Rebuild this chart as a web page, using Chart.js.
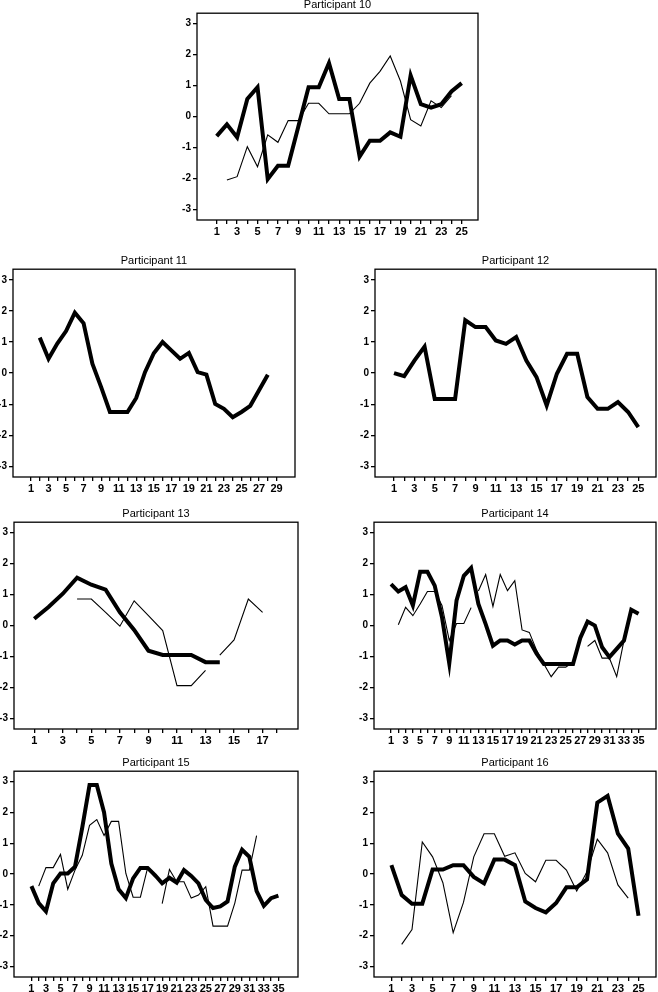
<!DOCTYPE html>
<html>
<head>
<meta charset="utf-8">
<script src="https://cdn.jsdelivr.net/npm/chart.js@4/dist/chart.umd.min.js"></script>
<style>
body{margin:0;background:#fff;}
#wrap{position:relative;width:658px;height:992px;overflow:hidden;background:#fff;}
#wrap canvas{position:absolute;}
</style>
</head>
<body>
<div id="wrap"></div>
<script>
// y ticks shared by all panels
const yTicks = [-3, -2, -1, 0, 1, 2, 3]

// participant 10
const p10Sessions = 25
const p10Thick = [-0.63, -0.25, -0.67, 0.57, 0.95, -2.02, -1.59, -1.59, -0.32, 0.95, 0.95, 1.73, 0.57, 0.57, -1.29, -0.78, -0.78, -0.51, -0.65, 1.33, 0.4, 0.29, 0.4, 0.81, 1.08]
const p10Thin = [null, -2.05, -1.94, -0.97, -1.62, -0.59, -0.83, -0.13, -0.13, 0.43, 0.43, 0.09, 0.09, 0.09, 0.43, 1.08, 1.46, 1.96, 1.15, -0.1, -0.3, 0.51, 0.29, 0.68]

// participant 11
const p11Sessions = 29
const p11Thick = [null, 1.14, 0.46, 0.95, 1.35, 1.94, 1.6, 0.3, -0.45, -1.25, -1.25, -1.25, -0.8, 0.03, 0.64, 1.0, 0.73, 0.46, 0.65, 0.03, -0.05, -0.99, -1.15, -1.42, -1.25, -1.05, -0.55, -0.05]

// participant 12
const p12Sessions = 25
const p12Thick = [0.0, -0.1, 0.4, 0.85, -0.83, -0.83, -0.83, 1.7, 1.48, 1.48, 1.05, 0.94, 1.16, 0.4, -0.13, -1.04, -0.02, 0.62, 0.62, -0.77, -1.15, -1.15, -0.93, -1.25, -1.74]

// participant 13
const p13Sessions = 18
const p13Thick = [0.22, 0.6, 1.03, 1.55, 1.32, 1.16, 0.43, -0.14, -0.81, -0.95, -0.95, -0.95, -1.18, -1.18]
const p13Thin = [null, null, null, 0.86, 0.86, 0.43, -0.02, 0.8, 0.32, -0.16, -1.94, -1.94, -1.45, -0.95, -0.46, 0.86, 0.43]
const p13Breaks = [13]

// participant 14
const p14Sessions = 35
const p14Thick = [1.34, 1.1, 1.24, 0.65, 1.74, 1.74, 1.29, 0.27, -1.22, 0.81, 1.61, 1.86, 0.7, 0.05, -0.65, -0.48, -0.48, -0.61, -0.48, -0.48, -0.91, -1.24, -1.24, -1.24, -1.24, -1.24, -0.4, 0.13, 0.0, -0.7, -1.02, -0.75, -0.48, 0.51, 0.38]
const p14Thin = [null, 0.03, 0.59, 0.32, 0.7, 1.1, 1.1, 0.65, -0.48, 0.07, 0.07, 0.58, 1.12, 1.65, 0.62, 1.65, 1.13, 1.45, -0.14, -0.22, -0.8, -1.24, -1.65, -1.34, -1.34, -1.18, null, -0.67, -0.48, -1.05, -1.05, -1.65, -0.48]
const p14Breaks = [12]

// participant 15
const p15Sessions = 35
const p15Thick = [-0.39, -0.94, -1.21, -0.3, 0.02, 0.02, 0.24, 1.52, 2.89, 2.89, 2.0, 0.34, -0.49, -0.78, -0.14, 0.2, 0.2, -0.03, -0.3, -0.12, -0.28, 0.13, -0.06, -0.3, -0.84, -1.1, -1.05, -0.89, 0.24, 0.79, 0.56, -0.55, -1.03, -0.78, -0.7]
const p15Thin = [null, -0.39, 0.21, 0.21, 0.64, -0.49, 0.13, 0.61, 1.58, 1.77, 1.25, 1.71, 1.71, 0.02, -0.75, -0.75, 0.21, -0.1, -0.96, 0.15, -0.25, -0.25, -0.78, -0.68, -0.41, -1.69, -1.69, -1.69, -0.94, 0.13, 0.13, 1.25]
const p15Breaks = [18]

// participant 16
const p16Sessions = 25
const p16Thick = [0.29, -0.68, -0.96, -0.96, 0.15, 0.15, 0.29, 0.29, -0.09, -0.3, 0.47, 0.47, 0.29, -0.89, -1.1, -1.24, -0.94, -0.43, -0.43, -0.17, 2.32, 2.54, 1.31, 0.83, -1.35]
const p16Thin = [null, -2.28, -1.8, 1.04, 0.56, -0.28, -1.9, -0.92, 0.56, 1.31, 1.31, 0.58, 0.69, 0.02, -0.25, 0.45, 0.45, 0.13, -0.55, 0.08, 1.13, 0.69, -0.35, -0.78]


const FONT = '"Liberation Sans", Arial, Helvetica, sans-serif'
const YW = 22   // y axis width
const XH = 19   // x axis height
const TH = 15.2 // title height
const RP = 2

const framePlugin = {
  id: 'frame',
  afterDatasetsDraw(chart) {
    const a = chart.chartArea
    const c = chart.ctx
    c.save()
    c.strokeStyle = '#000'
    c.lineWidth = 1.3
    c.strokeRect(a.left, a.top, a.right - a.left, a.bottom - a.top)
    c.restore()
  }
}

function makePanel(title, box, xMin, xMax, nSessions, thick, thin, breaks) {

  let sessions = []
  for (let i = 1; i <= nSessions; i++) sessions.push(i)

  let cv = document.createElement('canvas')
  let w = box[2] - box[0] + YW + RP
  let h = box[3] - box[1] + TH + XH
  cv.width = w
  cv.height = h
  cv.style.left = (box[0] - YW) + 'px'
  cv.style.top = (box[1] - TH) + 'px'
  cv.style.width = w + 'px'
  cv.style.height = h + 'px'
  document.getElementById('wrap').appendChild(cv)

  let datasets = []
  if (thin) {
    datasets.push({
      data: thin,
      borderColor: '#000',
      borderWidth: 1.1,
      pointRadius: 0,
      tension: 0,
      spanGaps: false,
      segment: {
        borderColor: c => (breaks || []).includes(c.p0.parsed.x) ? 'rgba(0,0,0,0)' : undefined
      }
    })
  }
  datasets.push({
    data: thick,
    borderColor: '#000',
    borderWidth: 4,
    borderJoinStyle: 'miter',
    pointRadius: 0,
    tension: 0,
    spanGaps: false
  })

  new Chart(cv, {
    type: 'line',
    data: { labels: sessions, datasets: datasets },
    options: {
      responsive: false,
      animation: false,
      devicePixelRatio: 1,
      layout: { padding: { top: 0, right: RP, bottom: 0, left: 0 } },
      plugins: {
        legend: { display: false },
        tooltip: { enabled: false },
        title: {
          display: true,
          text: title,
          fullSize: false,
          color: '#000',
          font: { family: FONT, size: 11, weight: 'normal', lineHeight: 1.2 },
          padding: { top: 0, bottom: 2 }
        }
      },
      scales: {
        x: {
          type: 'linear',
          min: xMin,
          max: xMax,
          afterBuildTicks: s => { s.ticks = sessions.map(v => ({ value: v })) },
          afterFit: s => { s.height = XH },
          grid: { drawOnChartArea: false, drawTicks: true, tickLength: 4, color: '#000', lineWidth: 1.3 },
          border: { display: false },
          ticks: {
            autoSkip: false,
            maxRotation: 0,
            minRotation: 0,
            padding: 1,
            color: '#000',
            font: { family: FONT, size: 11, weight: 'bold' },
            callback: v => (v % 2 === 1 ? String(v) : '')
          }
        },
        y: {
          min: -3.34,
          max: 3.34,
          afterBuildTicks: s => { s.ticks = yTicks.map(v => ({ value: v })) },
          afterFit: s => { s.width = YW },
          grid: { drawOnChartArea: false, drawTicks: true, tickLength: 4, color: '#000', lineWidth: 1.3 },
          border: { display: false },
          ticks: {
            padding: 2,
            color: '#000',
            font: { family: FONT, size: 10, weight: 'bold' },
            callback: v => String(v)
          }
        }
      }
    },
    plugins: [framePlugin]
  })
}

makePanel('Participant 10', [197, 13, 478, 220], -0.93, 26.6, p10Sessions, p10Thick, p10Thin, [])
makePanel('Participant 11', [13, 269, 295, 477], -1.05, 31.1, p11Sessions, p11Thick, null, [])
makePanel('Participant 12', [375, 269, 656, 477], -0.87, 26.74, p12Sessions, p12Thick, null, [])
makePanel('Participant 13', [14, 522, 298, 729], -0.42, 19.48, p13Sessions, p13Thick, p13Thin, p13Breaks)
makePanel('Participant 14', [374, 522, 656, 729], -1.34, 37.4, p14Sessions, p14Thick, p14Thin, p14Breaks)
makePanel('Participant 15', [14, 771, 298, 977], -1.4, 37.7, p15Sessions, p15Thick, p15Thin, p15Breaks)
makePanel('Participant 16', [374, 771, 656, 977], -0.69, 26.7, p16Sessions, p16Thick, p16Thin, [])
</script>
</body>
</html>
